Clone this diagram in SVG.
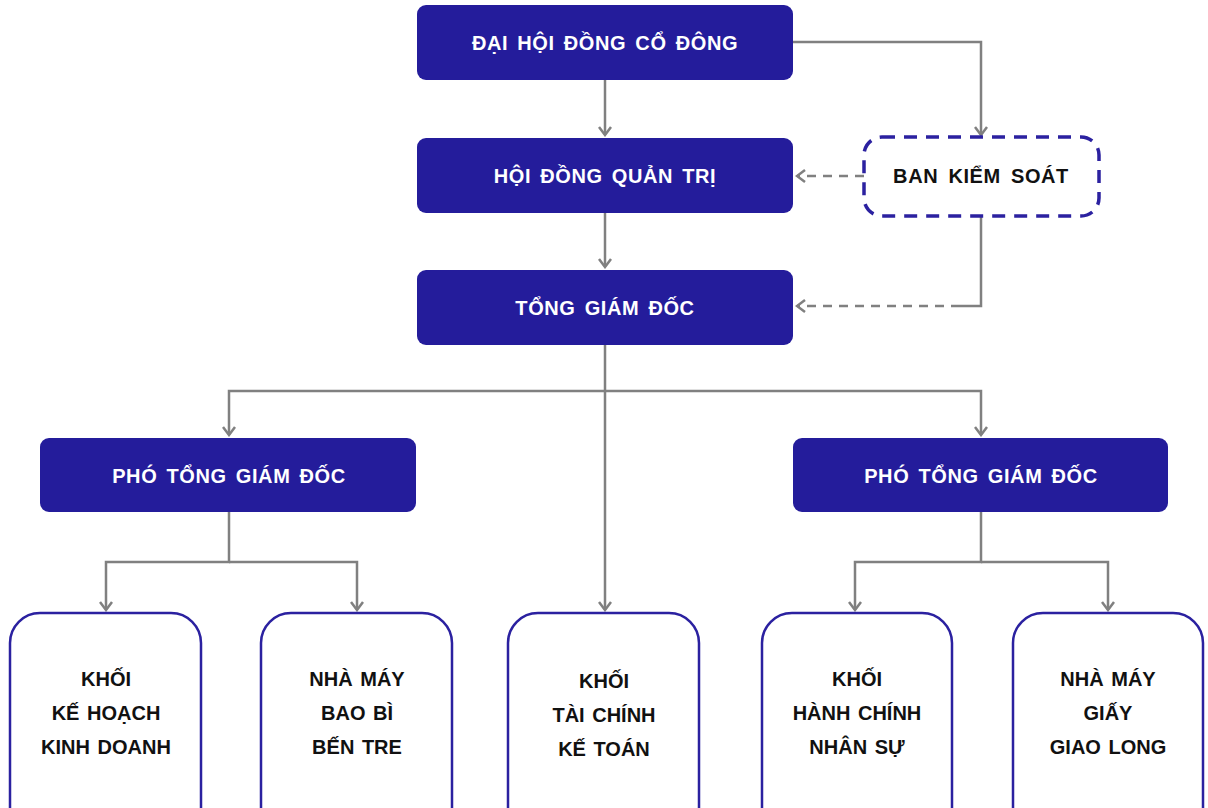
<svg xmlns="http://www.w3.org/2000/svg" width="1208" height="808" viewBox="0 0 1208 808">
<style>
.fill{fill:#241c9b;}
.wbox{fill:#ffffff;stroke:#2b21a0;stroke-width:2.5;}
.dbox{fill:#ffffff;stroke:#2b21a0;stroke-width:3.5;stroke-dasharray:13 9;}
.wt{font-family:"Liberation Sans",Arial,sans-serif;font-weight:bold;font-size:20px;fill:#ffffff;text-anchor:middle;letter-spacing:0.6px;word-spacing:3px;}
.bt{font-family:"Liberation Sans",Arial,sans-serif;font-weight:bold;font-size:20px;fill:#111111;text-anchor:middle;word-spacing:2px;}
.bks{letter-spacing:0.6px;word-spacing:4px;}
.ln{fill:none;stroke:#808080;stroke-width:2.5;}
.dl{fill:none;stroke:#808080;stroke-width:2.5;stroke-dasharray:9 7;}
</style>
<defs>
<marker id="ah" viewBox="-10 -8 12 16" refX="0" refY="0" markerWidth="12" markerHeight="16" markerUnits="userSpaceOnUse" orient="auto">
<path d="M-8,-6 L0,0 L-8,6" fill="none" stroke="#808080" stroke-width="2.5"/>
</marker>
</defs>
<g id="connectors">
<path class="ln" d="M793,42 H981 V135" marker-end="url(#ah)"/>
<path class="ln" d="M605,80 V135" marker-end="url(#ah)"/>
<path class="ln" d="M605,212 V267" marker-end="url(#ah)"/>
<path class="dl" d="M864,176 H797" marker-end="url(#ah)"/>
<path class="ln" d="M981,216 V306 H960"/>
<path class="dl" d="M960,306 H797" marker-end="url(#ah)"/>
<path class="ln" d="M605,344 V610" marker-end="url(#ah)"/>
<path class="ln" d="M605,391 H229 V435" marker-end="url(#ah)"/>
<path class="ln" d="M605,391 H981 V435" marker-end="url(#ah)"/>
<path class="ln" d="M229,512 V562 H106 V610" marker-end="url(#ah)"/>
<path class="ln" d="M229,562 H357 V610" marker-end="url(#ah)"/>
<path class="ln" d="M981,512 V562 H855 V610" marker-end="url(#ah)"/>
<path class="ln" d="M981,562 H1108 V610" marker-end="url(#ah)"/>
</g>
<g id="dhdcd"><rect class="fill" x="417" y="5" width="376" height="75" rx="9"/><text class="wt" x="605" y="50">ĐẠI HỘI ĐỒNG CỔ ĐÔNG</text></g>
<g id="hdqt"><rect class="fill" x="417" y="138" width="376" height="75" rx="9"/><text class="wt" x="605" y="183">HỘI ĐỒNG QUẢN TRỊ</text></g>
<g id="bks"><rect class="dbox" x="864" y="137" width="235" height="79" rx="18"/><text class="bt bks" x="981" y="183">BAN KIỂM SOÁT</text></g>
<g id="tgd"><rect class="fill" x="417" y="270" width="376" height="75" rx="9"/><text class="wt" x="605" y="315">TỔNG GIÁM ĐỐC</text></g>
<g id="ptgd1"><rect class="fill" x="40" y="438" width="376" height="74" rx="9"/><text class="wt" x="229" y="483">PHÓ TỔNG GIÁM ĐỐC</text></g>
<g id="ptgd2"><rect class="fill" x="793" y="438" width="375" height="74" rx="9"/><text class="wt" x="981" y="483">PHÓ TỔNG GIÁM ĐỐC</text></g>
<g id="khkd"><rect class="wbox" x="10" y="613" width="191" height="230" rx="30"/><text class="bt" x="106" y="686">KHỐI</text><text class="bt" x="106" y="720">KẾ HOẠCH</text><text class="bt" x="106" y="754">KINH DOANH</text></g>
<g id="bbbt"><rect class="wbox" x="261" y="613" width="191" height="230" rx="30"/><text class="bt" x="357" y="686">NHÀ MÁY</text><text class="bt" x="357" y="720">BAO BÌ</text><text class="bt" x="357" y="754">BẾN TRE</text></g>
<g id="tckt"><rect class="wbox" x="508" y="613" width="191" height="230" rx="30"/><text class="bt" x="604" y="688">KHỐI</text><text class="bt" x="604" y="722">TÀI CHÍNH</text><text class="bt" x="604" y="756">KẾ TOÁN</text></g>
<g id="hcns"><rect class="wbox" x="762" y="613" width="190" height="230" rx="30"/><text class="bt" x="857" y="686">KHỐI</text><text class="bt" x="857" y="720">HÀNH CHÍNH</text><text class="bt" x="857" y="754">NHÂN SỰ</text></g>
<g id="gl"><rect class="wbox" x="1013" y="613" width="190" height="230" rx="30"/><text class="bt" x="1108" y="686">NHÀ MÁY</text><text class="bt" x="1108" y="720">GIẤY</text><text class="bt" x="1108" y="754">GIAO LONG</text></g>
</svg>
